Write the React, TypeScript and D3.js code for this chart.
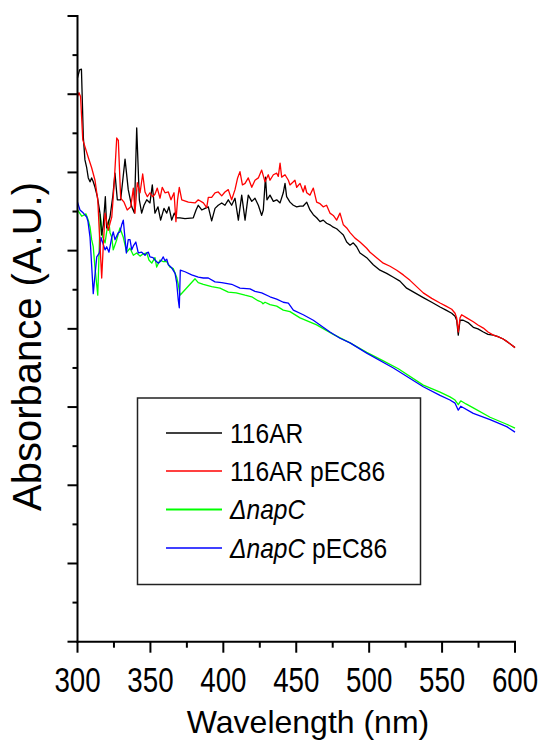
import React from "react";
import * as d3 from "d3";

// ---- data (wavelength nm, absorbance A.U.) ----
const black116AR: [number, number][] = [
  [300, 7.21], [301.4, 7.31], [302.7, 7.32], [304, 6.45], [305.1, 6.16], [306.3, 6.06], [307.4, 5.93],
  [308.6, 5.88], [309.7, 5.93], [310.8, 5.88], [312, 5.81], [313.6, 5.69], [315.4, 5.48], [316.6, 5.2],
  [317.7, 5.33], [319.1, 5.69], [320, 5.29], [322.3, 5.43], [324.3, 5.71], [325.7, 5.99], [327.3, 5.65],
  [329.6, 5.65], [332.6, 6.17], [334.8, 5.78], [337.2, 5.56], [339, 5.48], [340.6, 6.57], [342.4, 5.65],
  [344, 5.48], [345.6, 5.58], [347.5, 5.65], [349.7, 5.61], [351.3, 5.84], [353.1, 5.48], [355.2, 5.56],
  [357, 5.39], [359.3, 5.54], [361.2, 5.48], [362.7, 5.56], [364.6, 5.39], [366.4, 5.48], [368, 5.42],
  [370.3, 5.42], [373.7, 5.41], [379.4, 5.42], [381.3, 5.52], [382.8, 5.58], [385.2, 5.52], [387.4, 5.54],
  [389.7, 5.56], [392, 5.38], [394.3, 5.54], [396.5, 5.58], [398.9, 5.61], [401.1, 5.58], [403.4, 5.65],
  [405.7, 5.58], [408, 5.67], [410.3, 5.39], [412.6, 5.71], [414.9, 5.39], [417.1, 5.71], [419.5, 5.63],
  [421.7, 5.67], [424, 5.58], [426.3, 5.45], [427.4, 5.52], [428.9, 5.94], [429.9, 5.65], [432, 5.71],
  [434.3, 5.63], [436.6, 5.65], [438.9, 5.61], [441.1, 5.74], [442.3, 5.86], [443.4, 5.69], [445.7, 5.62],
  [448, 5.58], [450.3, 5.56], [452.6, 5.57], [454.8, 5.57], [457.2, 5.62], [459.4, 5.52], [461.7, 5.46],
  [464, 5.42], [466.3, 5.37], [468.5, 5.39], [470.8, 5.35], [473.1, 5.33], [475.4, 5.3], [477.7, 5.28],
  [480, 5.24], [482.3, 5.2], [484.6, 5.11], [486.9, 5.07], [489.1, 5.1], [491.4, 5.05], [493.7, 4.97],
  [498.3, 4.91], [502.8, 4.82], [507.4, 4.75], [512, 4.71], [516.6, 4.66], [521.1, 4.61], [525.7, 4.52],
  [531.4, 4.46], [537.1, 4.4], [542.9, 4.34], [548.6, 4.28], [552.7, 4.24], [556.6, 4.2], [558.9, 4.16],
  [560, 4.11], [561.1, 3.92], [562.3, 4.11], [564.5, 4.11], [567.8, 4.08], [571.4, 4.02], [574.6, 4.0],
  [578.3, 3.96], [581.5, 3.93], [585.1, 3.92], [588.3, 3.9], [591.9, 3.87], [595.1, 3.83], [597.9, 3.79],
  [600, 3.76],
];

const red116ARpEC86: [number, number][] = [
  [300, 6.97], [301, 7.02], [302.1, 6.97], [303.6, 6.42], [305.1, 6.33], [307.4, 6.19], [309.7, 6.06],
  [312, 5.9], [313.9, 5.65], [315, 5.23], [316.6, 4.65], [317.7, 5.07], [318.9, 5.48], [320, 5.37],
  [321.1, 5.26], [322.3, 5.35], [323.5, 5.43], [325, 5.81], [326.9, 6.44], [328, 6.41], [329.6, 5.67],
  [331.9, 5.62], [334.1, 5.52], [336.5, 5.56], [338.3, 5.8], [339.4, 5.48], [341, 5.87], [342.9, 5.74],
  [344.7, 5.98], [346.3, 5.75], [347.9, 5.69], [349.7, 5.74], [351.5, 5.69], [353.1, 5.72], [354.7, 5.8],
  [356.6, 5.67], [358.1, 5.81], [360, 5.74], [362.3, 5.75], [364.1, 5.65], [366.2, 5.74], [367.5, 5.37],
  [368.6, 5.65], [369.8, 5.81], [371.5, 5.65], [376, 5.62], [380.6, 5.61], [382.8, 5.65], [386.3, 5.61],
  [388.6, 5.55], [389.7, 5.68], [392, 5.68], [394.3, 5.74], [396.5, 5.75], [398.9, 5.7], [401.1, 5.75],
  [403.4, 5.78], [405.7, 5.65], [408, 5.78], [409.8, 5.93], [411.4, 6.01], [413.1, 5.84], [414.9, 5.86],
  [417.1, 5.93], [419.5, 5.81], [421.7, 5.9], [424, 5.93], [426.3, 6.03], [428.6, 5.88], [430.8, 5.97],
  [432, 5.9], [434.3, 5.97], [436.6, 5.99], [437.7, 5.95], [438.9, 6.12], [440, 5.94], [442.3, 5.97],
  [444.6, 5.9], [445.7, 5.84], [448, 5.88], [449.1, 5.9], [450.3, 5.81], [452.6, 5.86], [454.8, 5.75],
  [456, 5.83], [457.2, 5.74], [459.4, 5.71], [461.7, 5.8], [464, 5.62], [466.3, 5.6], [468.5, 5.56],
  [470.8, 5.58], [473.1, 5.48], [475.4, 5.45], [477.7, 5.39], [480, 5.48], [482.3, 5.33], [484.6, 5.29],
  [486.9, 5.23], [490.3, 5.16], [493.7, 5.11], [498.3, 5.03], [500.6, 4.98], [505.1, 4.91], [509.7, 4.84],
  [514.3, 4.8], [518.9, 4.75], [523.4, 4.69], [528, 4.62], [537.1, 4.46], [542.9, 4.39], [548.6, 4.33],
  [552.7, 4.29], [556.6, 4.25], [558.9, 4.2], [560, 4.14], [561.1, 3.96], [562.3, 4.14], [563.4, 4.18],
  [566.9, 4.14], [571.4, 4.09], [574.6, 4.05], [578.3, 4.01], [581.5, 3.96], [585.1, 3.92], [588.3, 3.9],
  [591.9, 3.87], [595.1, 3.83], [597.9, 3.79], [600, 3.76],
];

const greenNapC: [number, number][] = [
  [300, 5.52], [302.9, 5.44], [305.8, 5.47], [307.4, 5.39], [308.6, 5.3], [309.7, 5.14], [310.8, 5.05],
  [312, 4.78], [313.9, 4.43], [315.6, 5.46], [317.3, 5.17], [318.9, 5.1], [320, 5.24], [321.4, 5.39],
  [322.3, 5.23], [323.5, 5.17], [324.5, 5.01], [326.9, 5.14], [329.1, 5.29], [331.4, 5.17], [333.7, 4.98],
  [336, 5.03], [338.3, 4.94], [340.6, 4.97], [342.9, 4.93], [345.1, 4.96], [347.5, 4.97], [349, 4.88],
  [350.9, 4.84], [353.1, 4.91], [354.3, 4.79], [356.6, 4.88], [358.8, 4.86], [361.2, 4.86], [363.4, 4.79],
  [365.7, 4.77], [368, 4.66], [369.1, 4.57], [370.3, 4.43], [380.6, 4.64], [382.8, 4.59], [386.3, 4.57],
  [392, 4.54], [397.7, 4.52], [403.4, 4.47], [408.8, 4.46], [414.9, 4.43], [419.5, 4.41], [423.8, 4.36],
  [426.3, 4.34], [427.2, 4.32], [428.6, 4.34], [432, 4.31], [436.6, 4.29], [441.1, 4.24], [445.7, 4.22],
  [452.6, 4.14], [464, 4.05], [475.4, 3.93], [486.9, 3.82], [498.3, 3.7], [509.7, 3.59], [520, 3.49],
  [537.1, 3.28], [548.6, 3.19], [555.4, 3.13], [558.9, 3.09], [561.1, 3.03], [562.8, 3.08], [566.4, 3.04],
  [571.4, 2.99], [582.9, 2.87], [594.3, 2.78], [600, 2.73],
];

const blueNapCpEC86: [number, number][] = [
  [300, 5.62], [301.7, 5.52], [304, 5.48], [306.3, 5.43], [307.2, 5.37], [308.6, 5.17], [309.9, 4.75],
  [310.8, 4.45], [312, 4.69], [313.2, 4.92], [315, 4.97], [316.1, 5.17], [317.3, 5.1], [318.9, 5.01],
  [320, 5.05], [321.6, 4.98], [323.5, 5.17], [324.5, 5.24], [325.7, 5.14], [328, 5.23], [329.1, 5.24],
  [330.3, 5.33], [331.4, 5.39], [333.5, 4.97], [334.8, 5.14], [336, 5.14], [337.2, 5.01], [338.3, 5.06],
  [340, 5.11], [341.7, 4.97], [344, 4.98], [346.3, 4.94], [347.5, 4.97], [348.6, 4.98], [349.7, 4.92],
  [351.8, 4.91], [353.1, 4.88], [355.4, 4.84], [357.3, 4.87], [358.8, 4.92], [360, 4.87], [361.2, 4.89],
  [362.3, 4.82], [364.6, 4.78], [366.9, 4.71], [368, 4.59], [369.1, 4.37], [369.8, 4.27], [370.5, 4.75],
  [373.7, 4.73], [378.3, 4.69], [382.8, 4.66], [386.3, 4.65], [389.7, 4.65], [394.3, 4.6], [398.9, 4.59],
  [405.7, 4.57], [411.4, 4.52], [418.3, 4.51], [421.7, 4.48], [426.3, 4.46], [432, 4.41], [436.6, 4.38],
  [441.1, 4.34], [444.6, 4.33], [448, 4.24], [454.8, 4.18], [461.7, 4.11], [466.3, 4.05], [473.1, 3.96],
  [480, 3.88], [486.9, 3.82], [498.3, 3.69], [516.6, 3.5], [537.1, 3.26], [548.6, 3.15], [555.4, 3.09],
  [558.9, 3.05], [561.1, 2.96], [562.8, 3.01], [571.4, 2.92], [582.9, 2.84], [594.3, 2.75], [600, 2.68],
];

const xTickLabels = [300, 350, 400, 450, 500, 550, 600];
const xMinorTicks = [325, 375, 425, 475, 525, 575];
const yMajorTicks = [0, 1, 2, 3, 4, 5, 6, 7, 8];
const yMinorTicks = [0.5, 1.5, 2.5, 3.5, 4.5, 5.5, 6.5, 7.5];

const seriesNames = ["116AR", "116AR pEC86", "napC", "napC pEC86"];
const seriesColors = ["#000000", "#ff0000", "#00ff00", "#0000ff"];

export default function App() {
  const x = d3.scaleLinear().domain([300, 600]).range([77.5, 515]);
  const y = d3.scaleLinear().domain([0, 8]).range([641.7, 16]);
  const line = d3
    .line<[number, number]>()
    .x((d) => x(d[0]))
    .y((d) => y(d[1]));

  const series = [black116AR, red116ARpEC86, greenNapC, blueNapCpEC86];
  const drawOrder = [2, 3, 0, 1];
  const font = "'Liberation Sans', Arial, sans-serif";

  const legendRowY = [433, 471, 509.5, 548];

  return (
    <svg
      width={545}
      height={745}
      style={{ position: "absolute", left: 0, top: 0, background: "#fff" }}
      fontFamily={font}
    >
      <rect x={0} y={0} width={545} height={745} fill="#fff" />
      {drawOrder.map((i) => (
        <path
          key={i}
          d={line(series[i]) || ""}
          fill="none"
          stroke={seriesColors[i]}
          strokeWidth={1.3}
          strokeLinejoin="round"
        />
      ))}

      {/* axes */}
      <line x1={x(300)} x2={x(300)} y1={y(8) - 1} y2={y(0) + 1} stroke="#000" strokeWidth={2} />
      <line x1={x(300) - 1} x2={x(600) + 1} y1={y(0)} y2={y(0)} stroke="#000" strokeWidth={2} />
      {yMajorTicks.map((t) => (
        <line key={"ym" + t} x1={x(300) - 10} x2={x(300)} y1={y(t)} y2={y(t)} stroke="#000" strokeWidth={2} />
      ))}
      {yMinorTicks.map((t) => (
        <line key={"yn" + t} x1={x(300) - 5} x2={x(300)} y1={y(t)} y2={y(t)} stroke="#000" strokeWidth={2} />
      ))}
      {xTickLabels.map((t) => (
        <line key={"xm" + t} x1={x(t)} x2={x(t)} y1={y(0)} y2={y(0) + 11} stroke="#000" strokeWidth={2} />
      ))}
      {xMinorTicks.map((t) => (
        <line key={"xn" + t} x1={x(t)} x2={x(t)} y1={y(0)} y2={y(0) + 6} stroke="#000" strokeWidth={2} />
      ))}
      {xTickLabels.map((t) => (
        <g key={"xl" + t} transform={`translate(${x(t)},691.5) scale(0.77,1)`}>
          <text textAnchor="middle" fontSize={36} fill="#000">
            {t}
          </text>
        </g>
      ))}

      <text x={308} y={733} textAnchor="middle" fontSize={32} fill="#000">
        Wavelength (nm)
      </text>
      <text
        transform="translate(41,346.5) rotate(-90)"
        textAnchor="middle"
        fontSize={40}
        fill="#000"
      >
        Absorbance (A.U.)
      </text>

      {/* legend */}
      <rect x={137.5} y={398} width={283} height={186.5} fill="#fff" stroke="#222" strokeWidth={1.5} />
      {seriesNames.map((name, i) => (
        <g key={"lg" + i}>
          <line
            x1={166}
            x2={222}
            y1={legendRowY[i]}
            y2={legendRowY[i]}
            stroke={seriesColors[i]}
            strokeWidth={i === 2 ? 2 : 1.3}
          />
          <g transform={`translate(230,${legendRowY[i] + 9.5}) scale(0.91,1)`}>
            <text fontSize={27} fill="#000">
              {i < 2 ? (
                name
              ) : (
                <>
                  <tspan fontStyle="italic">{"\u0394napC"}</tspan>
                  {i === 3 ? " pEC86" : ""}
                </>
              )}
            </text>
          </g>
        </g>
      ))}
    </svg>
  );
}
